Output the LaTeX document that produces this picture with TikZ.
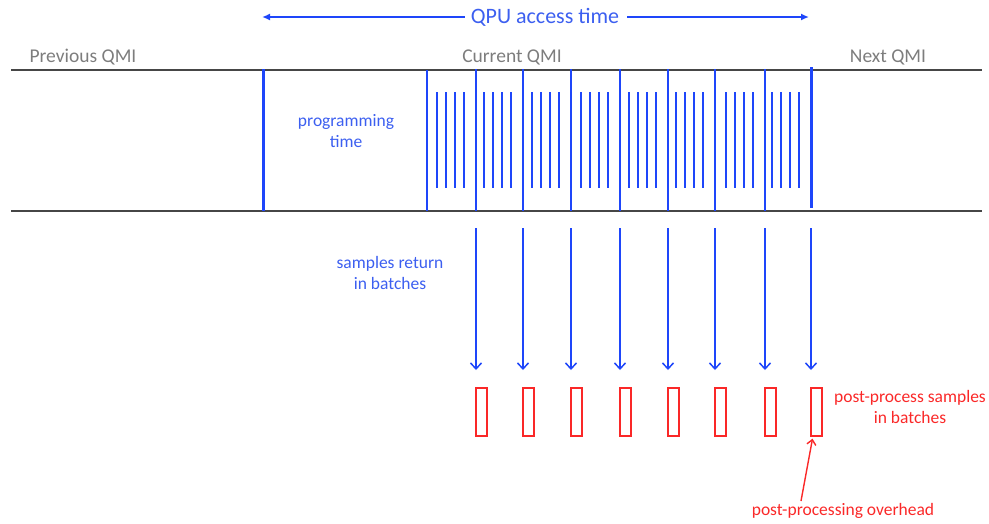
\documentclass[tikz,border=0pt]{standalone}
\usepackage{fontspec}
\setmainfont{Carlito}
\usetikzlibrary{arrows.meta}
\definecolor{qblue}{RGB}{30,70,250}
\definecolor{qtext}{RGB}{60,95,240}
\definecolor{qred}{RGB}{250,40,40}
\definecolor{qgray}{RGB}{125,125,125}
\definecolor{qline}{RGB}{70,70,70}
\tikzset{
  rail/.style={draw=qline, line width=1.6pt},
  bigtick/.style={draw=qblue, line width=3pt},
  septick/.style={draw=qblue, line width=1.5pt},
  shottick/.style={draw=qblue, line width=1.5pt},
  bluelbl/.style={text=qtext, font=\fontsize{17.5}{21}\selectfont, align=center, inner sep=0pt},
  redlbl/.style={text=qred, font=\fontsize{17.5}{21}\selectfont, align=center, inner sep=0pt},
  qmilbl/.style={text=qgray, font=\fontsize{19.5}{23}\selectfont, inner sep=0pt},
  batchbox/.style={draw=qred, line width=1.4pt, minimum width=11pt, minimum height=48pt, inner sep=0pt},
  returnarrow/.style={draw=qblue, line width=1.5pt, -{Straight Barb[length=6pt,width=11pt,line width=1.5pt]}},
  spanarrow/.style={draw=qblue, line width=2.2pt, -{Latex[length=8pt,width=7pt]}},
}
\begin{document}
\begin{tikzpicture}[x=1pt,y=-1pt]
\useasboundingbox (0,0) rectangle (989,523);

% timeline rails
\coordinate (tl) at (11,70);
\coordinate (tr) at (982,70);
\coordinate (bl) at (11,211);
\coordinate (br) at (982,211);
\draw[rail] (tl) -- (tr);
\draw[rail] (bl) -- (br);

% QMI labels
\node[qmilbl] (prev) at (83,57) {Previous QMI};
\node[qmilbl] (cur) at (512,57) {Current QMI};
\node[qmilbl] (next) at (888,57) {Next QMI};

% QPU access time span
\node[text=qtext, font=\fontsize{22}{26}\selectfont, inner sep=0pt] (qpu) at (545,17) {QPU access time};
\coordinate (qa) at (262,17);
\coordinate (qb) at (809,17);
\draw[spanarrow] ([xshift=-6pt]qpu.west) -- (qa);
\draw[spanarrow] ([xshift=8pt]qpu.east) -- (qb);

% start of programming and end of access
\coordinate (pt) at (263,69);
\coordinate (pb) at (263,211);
\draw[bigtick] (pt) -- (pb);
\coordinate (et) at (811,67);
\coordinate (eb) at (811,208);
\draw[bigtick] (et) -- (eb);

\node[bluelbl] (prog) at (346,131) {programming\\time};

% batch separators and shots
\coordinate (s0t) at (427,70); \coordinate (s0b) at (427,211);
\draw[septick] (s0t) -- (s0b);
\foreach \i/\x in {1/476,2/523,3/571,4/620,5/668,6/715,7/765,8/811}{
  \ifnum\i<8
    \coordinate (s\i t) at (\x,69);
    \coordinate (s\i b) at (\x,211);
    \draw[septick] (s\i t) -- (s\i b);
  \fi
  % four shots in the batch ending at this separator
  \foreach \k in {0,1,2,3}{
    \pgfmathsetmacro\sx{\x-39+9*\k}
    \coordinate (h\i\k t) at (\sx,92);
    \coordinate (h\i\k b) at (\sx,188);
    \draw[shottick] (h\i\k t) -- (h\i\k b);
  }
  % returning samples and their post-processing
  \coordinate (a\i) at (\x,228);
  \coordinate (b\i) at (\x,370);
  \draw[returnarrow] (a\i) -- (b\i);
  \node[batchbox] (r\i) at (\x+5.5,412) {};
}

\node[bluelbl] (ret) at (390,273) {samples return\\in batches};
\node[redlbl] (pp) at (910,407) {post-process samples\\in batches};
\node[redlbl] (ovh) at (843,511) {post-processing overhead};
\coordinate (ovt) at (801,501);
\draw[draw=qred, line width=1.4pt, -{Straight Barb[length=5pt,width=9pt,line width=1.4pt]}] (ovt) -- ([xshift=-4pt,yshift=-2pt]r8.south);
\end{tikzpicture}
\end{document}
